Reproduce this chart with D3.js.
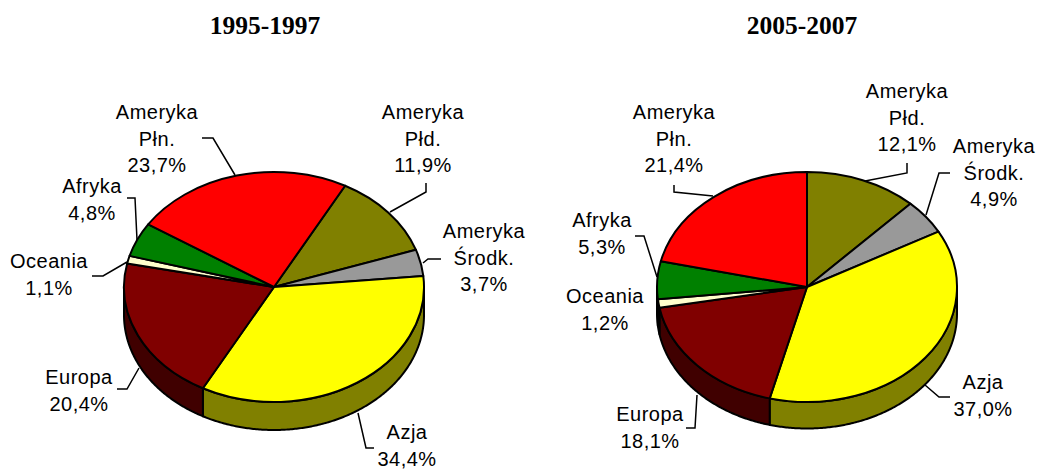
<!DOCTYPE html>
<html>
<head>
<meta charset="utf-8">
<script src="https://cdn.jsdelivr.net/npm/d3@7"></script>
<style>
html, body { margin: 0; padding: 0; background: #fff; overflow: hidden; }
text { font-family: "Liberation Sans", Arial, sans-serif; font-size: 20px; letter-spacing: 0.5px; fill: #000; text-anchor: middle; }
.title { font-family: "Liberation Serif", "Times New Roman", serif; font-weight: bold; font-size: 25.5px; letter-spacing: 0; }
</style>
</head>
<body>
<div id="chart"></div>
<script>
// clockwise from the first slice
var regions = ["Ameryka Płd.", "Ameryka Środk.", "Azja", "Europa", "Oceania", "Afryka", "Ameryka Płn."];
var values9597 = [11.9, 3.7, 34.4, 20.4, 1.1, 4.8, 23.7];
var values0507 = [12.1, 4.9, 37.0, 18.1, 1.2, 5.3, 21.4];
var titles = ["1995-1997", "2005-2007"];
var labelLines = [["Ameryka", "Płd."], ["Ameryka", "Środk."], ["Azja"], ["Europa"], ["Oceania"], ["Afryka"], ["Ameryka", "Płn."]];

var topColors = ["#808000", "#999999", "#ffff00", "#800000", "#ffffcc", "#008000", "#ff0000"];
var sideColors = ["#404000", "#4b4b4b", "#808000", "#400000", "#808066", "#004000", "#800000"];

// label layout, same order as regions: centre x, first baseline
var labelPos9597 = [[423, 119], [484, 238], [407, 439], [79, 384], [49, 268], [92, 193], [157, 119]];
var labelPos0507 = [[907, 98], [994, 153], [983, 389], [650, 421], [605, 303], [602, 227], [674, 119]];
var leaders9597 = [
  [[426, 183], [426, 192], [390, 212]],
  [[441, 259], [428, 259], [423, 263]],
  [[358, 413], [366, 448], [374, 448]],
  [[117, 389], [127, 389], [139, 368]],
  [[92, 276], [103, 276], [127, 262]],
  [[127, 198], [135, 198], [137, 240]],
  [[202, 138], [213, 138], [235, 175]]
];
var leaders0507 = [
  [[907, 163], [907, 173], [865, 181]],
  [[950, 173], [939, 173], [926, 215]],
  [[950, 397], [939, 397], [925, 385]],
  [[686, 428], [695, 428], [697, 395]],
  null,
  [[635, 236], [644, 236], [657, 277]],
  [[674, 185], [674, 192], [713, 196]]
];

var width = 1039, height = 470,
    rx = 150, ry = 115;

var svg = d3.select("#chart").append("svg")
  .attr("width", width)
  .attr("height", height)
  .style("display", "block");

var fmt = function(v) { return v.toFixed(1).replace(".", ",") + "%"; };
var line = d3.line();

function drawPie(opts) {
  var pie = d3.pie().sort(null).startAngle(opts.start).endAngle(opts.start + 2 * Math.PI);
  var slices = pie(opts.values);
  var g = svg.append("g").attr("transform", "translate(" + opts.cx + "," + opts.cy + ")");

  var edge = function(a, dy) { return [rx * Math.sin(a), -ry * Math.cos(a) + dy]; };

  // side wall, only the front half of the ellipse shows
  slices.forEach(function(d, i) {
    var a0 = Math.max(d.startAngle, Math.PI / 2),
        a1 = Math.min(d.endAngle, 3 * Math.PI / 2);
    if (a1 <= a0) return;
    var steps = d3.range(a0, a1, 0.01).concat([a1]);
    var pts = steps.map(function(a) { return edge(a, 0); })
      .concat(steps.slice().reverse().map(function(a) { return edge(a, opts.depth); }));
    g.append("path")
      .attr("d", line(pts) + "Z")
      .attr("fill", sideColors[i])
      .attr("stroke", "#000")
      .attr("stroke-width", 2)
      .attr("stroke-linejoin", "round");
  });

  var arc = d3.arc().innerRadius(0).outerRadius(rx);
  g.append("g")
    .attr("transform", "scale(1," + (ry / rx) + ")")
    .selectAll("path")
    .data(slices)
    .join("path")
    .attr("d", arc)
    .attr("fill", function(d, i) { return topColors[i]; })
    .attr("stroke", "#000")
    .attr("stroke-width", 2)
    .attr("stroke-linejoin", "round")
    .attr("vector-effect", "non-scaling-stroke");

  // leader lines
  opts.leaders.forEach(function(l) {
    if (!l) return;
    svg.append("path")
      .attr("d", line(l))
      .attr("fill", "none")
      .attr("stroke", "#000")
      .attr("stroke-width", 1.5);
  });

  // labels
  regions.forEach(function(name, i) {
    var t = svg.append("text")
      .attr("x", opts.labels[i][0])
      .attr("y", opts.labels[i][1]);
    labelLines[i].concat([fmt(opts.values[i])]).forEach(function(s, k) {
      t.append("tspan")
        .attr("x", opts.labels[i][0])
        .attr("dy", k ? 26.5 : 0)
        .text(s);
    });
  });

  svg.append("text")
    .attr("class", "title")
    .attr("x", opts.titleX)
    .attr("y", 34)
    .text(opts.title);
}

drawPie({
  cx: 274, cy: 287, depth: 28, start: 28.3 * Math.PI / 180,
  values: values9597, labels: labelPos9597, leaders: leaders9597,
  title: titles[0], titleX: 265
});
drawPie({
  cx: 807, cy: 287, depth: 26.5, start: 0,
  values: values0507, labels: labelPos0507, leaders: leaders0507,
  title: titles[1], titleX: 802
});
</script>
</body>
</html>
